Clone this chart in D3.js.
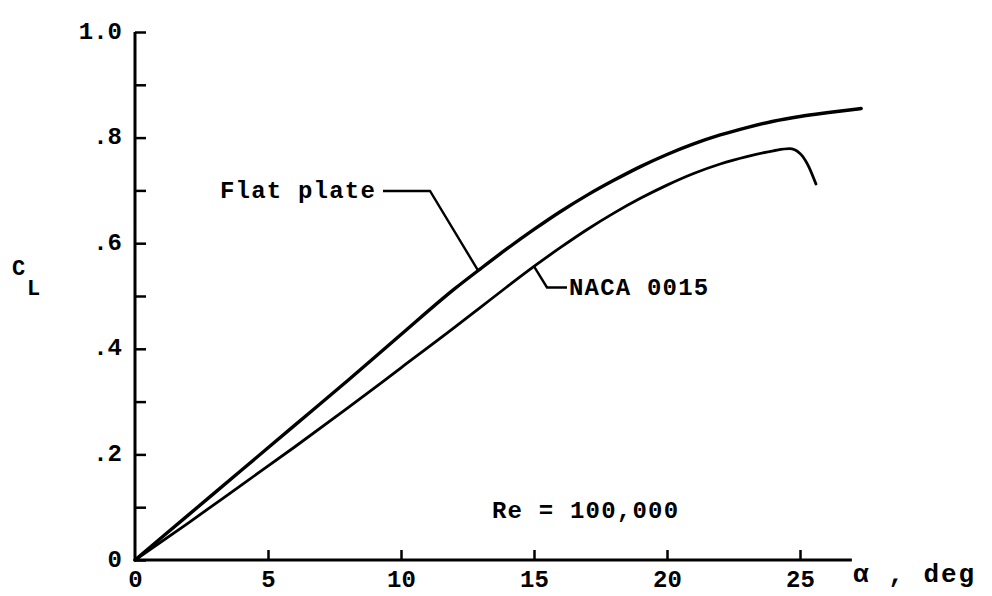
<!DOCTYPE html>
<html>
<head>
<meta charset="utf-8">
<script src="https://cdn.jsdelivr.net/npm/d3@7"></script>
<style>
  html, body { margin: 0; padding: 0; background: #fff; }
  svg { display: block; }
  text { font-family: "Liberation Mono", "DejaVu Sans Mono", monospace; font-weight: bold; fill: #000; }
</style>
</head>
<body>
<svg id="chart" width="992" height="596"></svg>
<script>
// ---- data ----
const flatAlpha = [0, 2, 4, 6, 8, 10, 12, 13, 14, 15, 16, 17, 18, 19, 20, 21, 22, 23, 24, 25, 26, 27.3];
const flatCL    = [0, 0.085, 0.17, 0.255, 0.34, 0.427, 0.513, 0.552, 0.59, 0.626, 0.66, 0.691, 0.719, 0.745, 0.768, 0.788, 0.805, 0.819, 0.831, 0.840, 0.847, 0.855];
const nacaAlpha = [0, 2, 4, 6, 8, 10, 12, 13, 14, 15, 16, 17, 18, 19, 20, 21, 22, 23, 24, 24.6, 25.0, 25.3, 25.6];
const nacaCL    = [0, 0.07, 0.142, 0.214, 0.288, 0.364, 0.44, 0.479, 0.518, 0.556, 0.592, 0.626, 0.657, 0.685, 0.71, 0.732, 0.75, 0.764, 0.775, 0.779, 0.77, 0.748, 0.712];
const xTicks = [0, 5, 10, 15, 20, 25];
const xTickLabels = ["0", "5", "10", "15", "20", "25"];
const yMajorTicks = [0, 0.2, 0.4, 0.6, 0.8, 1.0];
const yTickLabels = ["0", ".2", ".4", ".6", ".8", "1.0"];
const yMinorTicks = [0.1, 0.3, 0.5, 0.7, 0.9];
const seriesNames = ["Flat plate", "NACA 0015"];
const leaderAlpha = [12.9, 15];   // where the label leaders touch the curves
const reText = "Re = 100,000";
const xAxisMax = 26.95;

// ---- scales ----
const svg = d3.select("#chart");
const x = d3.scaleLinear().domain([0, 25]).range([135, 800]);
const y = d3.scaleLinear().domain([0, 1]).range([560, 32]);

const FS = 24;

// ---- axes ----
const gx = svg.append("g").attr("transform", `translate(0,${y(0)})`)
  .call(d3.axisBottom(x).tickValues(xTicks).tickFormat((d, i) => xTickLabels[i])
    .tickSizeInner(-10).tickSizeOuter(0).tickPadding(10));
gx.select(".domain").remove();
gx.selectAll(".tick line").attr("stroke", "#000").attr("stroke-width", 2.5)
  .filter(d => d === 0).remove();
gx.selectAll("text").attr("font-size", FS).style("font-family", '"Liberation Mono", monospace').style("font-weight", "bold");
svg.append("line").attr("x1", x(0)).attr("x2", x(xAxisMax)).attr("y1", y(0)).attr("y2", y(0))
  .attr("stroke", "#000").attr("stroke-width", 3);

const gy = svg.append("g").attr("transform", `translate(${x(0)},0)`)
  .call(d3.axisLeft(y).tickValues(yMajorTicks).tickFormat((d, i) => yTickLabels[i])
    .tickSizeInner(-11).tickSizeOuter(0).tickPadding(13));
gy.select(".domain").remove();
gy.selectAll(".tick line").attr("stroke", "#000").attr("stroke-width", 2.5);
gy.selectAll("text").attr("font-size", FS).attr("dy", "0.25em").style("font-family", '"Liberation Mono", monospace').style("font-weight", "bold");
const gyMinor = svg.append("g").attr("transform", `translate(${x(0)},0)`)
  .call(d3.axisLeft(y).tickValues(yMinorTicks).tickFormat("").tickSizeInner(-11).tickSizeOuter(0));
gyMinor.select(".domain").remove();
gyMinor.selectAll(".tick line").attr("stroke", "#000").attr("stroke-width", 2.5);
svg.append("line").attr("x1", x(0)).attr("x2", x(0)).attr("y1", y(0) + 1.5).attr("y2", y(1))
  .attr("stroke", "#000").attr("stroke-width", 3);

// ---- curves ----
const flat = flatAlpha.map((a, i) => [a, flatCL[i]]);
const naca = nacaAlpha.map((a, i) => [a, nacaCL[i]]);
const line = d3.line().x(d => x(d[0])).y(d => y(d[1])).curve(d3.curveMonotoneX);
svg.append("path").datum(flat).attr("d", line).attr("fill", "none")
  .attr("stroke", "#000").attr("stroke-width", 3.4).attr("stroke-linecap", "round");
svg.append("path").datum(naca).attr("d", line).attr("fill", "none")
  .attr("stroke", "#000").attr("stroke-width", 2.8).attr("stroke-linecap", "round");

// ---- leaders & labels ----
function interp(xs, ys, a) {
  const i = Math.max(1, d3.bisectLeft(xs, a));
  const t = (a - xs[i - 1]) / (xs[i] - xs[i - 1]);
  return ys[i - 1] + t * (ys[i] - ys[i - 1]);
}
const pF = [x(leaderAlpha[0]), y(interp(flatAlpha, flatCL, leaderAlpha[0]))];
const pN = [x(leaderAlpha[1]), y(interp(nacaAlpha, nacaCL, leaderAlpha[1]))];

svg.append("path").attr("d", d3.line()([[383, 191], [430, 191], pF]))
  .attr("fill", "none").attr("stroke", "#000").attr("stroke-width", 2.4);
svg.append("path").attr("d", d3.line()([pN, [pN[0] + 13, pN[1] + 21], [567, pN[1] + 21]]))
  .attr("fill", "none").attr("stroke", "#000").attr("stroke-width", 2.4);

const tstyle = sel => sel.attr("font-size", FS).attr("letter-spacing", 1.2);
svg.append("text").attr("x", 220).attr("y", 198).text(seriesNames[0]).call(tstyle);
svg.append("text").attr("x", 569).attr("y", 295).text(seriesNames[1]).call(tstyle);
svg.append("text").attr("x", 492).attr("y", 518).text(reText).call(tstyle);

// axis titles
const yl = svg.append("text").attr("x", 12).attr("y", 275).attr("font-size", 22);
yl.append("tspan").text("C");
yl.append("tspan").attr("x", 27).attr("y", 295).text("L");
svg.append("text").attr("x", 853).attr("y", 582).attr("font-size", 26).attr("letter-spacing", 2)
  .text("α , deg");
</script>
</body>
</html>
